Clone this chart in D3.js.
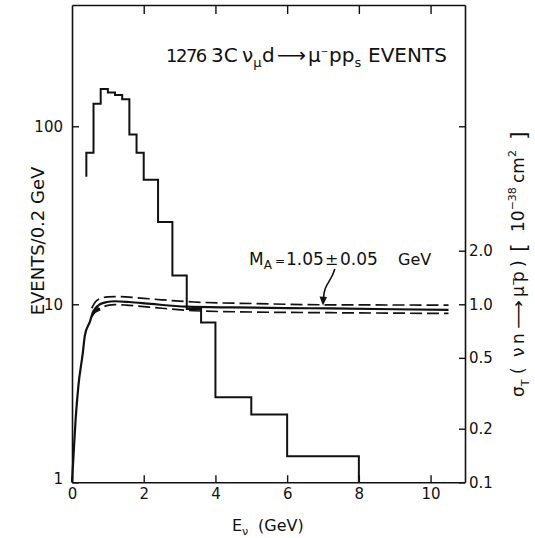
<!DOCTYPE html>
<html><head><meta charset="utf-8">
<script src="https://cdn.jsdelivr.net/npm/d3@7"></script>
<style>
html,body{margin:0;padding:0;background:#fff;}
svg{display:block;}
text{font-family:"DejaVu Sans",sans-serif;fill:#111;}
</style></head>
<body>
<script>
// ---------------- data ----------------
const histEdges  = [0.4,0.6,0.8,1.0,1.2,1.4,1.6,1.8,2.0,2.4,2.8,3.2,3.6,4.0,5.0,6.0,8.0];
const histCounts = [71,134,162,155,150,142,90,71,50,29,14.5,9.4,7.9,3.0,2.4,1.4];
const histStartCount = 52;   // lower end of first vertical edge
const histEndCount = 1;      // histogram closes down to axis

const solidE   = [0.0,0.036,0.1,0.176,0.3,0.36,0.5,0.59,0.78,0.97,1.2,1.6,2.2,3.2,4.5,6.0,7.2,9.0,10.5];
const solidSig = [0.1,0.134,0.224,0.345,0.53,0.67,0.80,0.91,1.0,1.03,1.04,1.03,1.005,0.97,0.96,0.952,0.948,0.938,0.93];

const upperE   = [0.55,0.65,0.78,1.0,1.2,1.5,2.0,2.5,3.4,5.0,7.2,10.5];
const upperSig = [0.95,1.03,1.075,1.10,1.105,1.10,1.08,1.06,1.03,1.01,0.993,0.99];

const lowerE   = [0.55,0.65,0.78,1.0,1.2,1.5,2.0,2.5,3.4,5.0,7.2,10.5];
const lowerSig = [0.85,0.91,0.95,0.985,0.995,0.99,0.97,0.95,0.92,0.905,0.897,0.888];

const xTicks = [0,2,4,6,8,10];
const xTopTicks = [2,4,6,8,10];
const yTicks = [1,10,100];
const yTickLabels = ["1","10","100"];
const yRTicks = [0.1,0.2,0.5,1.0,2.0,10];
const yRTickLabels = ["0.1","0.2","0.5","1.0","2.0",""];

// ---------------- layout ----------------
const W = 535, H = 538;
const L = 72, R = 465, T = 5, B = 482.3;

const svg = d3.select("body").append("svg").attr("width",W).attr("height",H);
svg.append("rect").attr("width",W).attr("height",H).attr("fill","#fff");

const x  = d3.scaleLinear().domain([0,10.96]).range([L,R]);
const y  = d3.scaleLog().domain([1,480]).range([B,T]);
const yR = d3.scaleLog().domain([0.1,48]).range([B,T]);

const axStyle = g => {
  g.selectAll("path.domain").attr("stroke","#111").attr("stroke-width",1.6);
  g.selectAll(".tick line").attr("stroke","#111").attr("stroke-width",1.4);
  g.selectAll("text").attr("font-family","DejaVu Sans").attr("fill","#111");
};

// bottom axis
svg.append("g").attr("transform",`translate(0,${B})`)
  .call(d3.axisBottom(x).tickValues(xTicks).tickFormat(d3.format("d")).tickSizeInner(-7).tickSizeOuter(0).tickPadding(6))
  .call(axStyle).call(g=>g.selectAll("text").attr("font-size",15));
// top axis
svg.append("g").attr("transform",`translate(0,${T})`)
  .call(d3.axisTop(x).tickValues(xTopTicks).tickFormat("").tickSizeInner(-9).tickSizeOuter(0))
  .call(axStyle);
// left axis
svg.append("g").attr("transform",`translate(${L},0)`)
  .call(d3.axisLeft(y).tickValues(yTicks).tickFormat((d,i)=>yTickLabels[i]).tickSizeInner(-7).tickSizeOuter(0).tickPadding(9))
  .call(axStyle).call(g=>g.selectAll("text").attr("font-size",15))
  .call(g=>g.selectAll(".tick").filter(d=>d===1).select("text").attr("dy","0.05em"));
// right axis
svg.append("g").attr("transform",`translate(${R},0)`)
  .call(d3.axisRight(yR).tickValues(yRTicks).tickFormat((d,i)=>yRTickLabels[i]).tickSizeInner(-6).tickSizeOuter(0).tickPadding(4))
  .call(axStyle).call(g=>g.selectAll("text").attr("font-size",15));

// ---------------- histogram ----------------
const histPts = [[histEdges[0], histStartCount]];
histCounts.forEach((c,i)=>{ histPts.push([histEdges[i],c]); histPts.push([histEdges[i+1],c]); });
histPts.push([histEdges[histEdges.length-1], histEndCount]);
svg.append("path")
  .attr("d", d3.line().x(d=>x(d[0])).y(d=>y(d[1]))(histPts))
  .attr("fill","none").attr("stroke","#111").attr("stroke-width",2);

// ---------------- curves ----------------
const cl = d3.line().x(d=>x(d[0])).y(d=>yR(d[1])).curve(d3.curveMonotoneX);
svg.append("path").attr("d", cl(solidE.map((e,i)=>[e,solidSig[i]])))
  .attr("fill","none").attr("stroke","#111").attr("stroke-width",2.2);
svg.append("path").attr("d", cl(upperE.map((e,i)=>[e,upperSig[i]])))
  .attr("fill","none").attr("stroke","#111").attr("stroke-width",1.7).attr("stroke-dasharray","12,5");
svg.append("path").attr("d", cl(lowerE.map((e,i)=>[e,lowerSig[i]])))
  .attr("fill","none").attr("stroke","#111").attr("stroke-width",1.7).attr("stroke-dasharray","12,5");

// small arrowhead at dashed-curve start
{
  const tx = x(0.58), ty = yR(0.88);
  svg.append("path").attr("d",`M${tx},${ty} l4,-9 l4,5 z`).attr("fill","#111");
}

// M_A annotation arrow
{
  const tipX = x(7.0), tipY = yR(0.985);
  const sx = x(7.33), sy = 269;
  svg.append("path")
    .attr("d",`M${sx},${sy} C${sx-4},${sy+14} ${tipX+1},${tipY-22} ${tipX+0.5},${tipY-7}`)
    .attr("fill","none").attr("stroke","#111").attr("stroke-width",1.6);
  svg.append("path").attr("d",`M${tipX},${tipY} l-3.5,-9 l7.5,0.5 z`).attr("fill","#111");
}

// ---------------- texts ----------------
// title
{
  const t = svg.append("text").attr("y",62).attr("font-size",20);
  t.append("tspan").attr("x",166).attr("font-size",18).attr("letter-spacing",-1.5).text("1276");
  t.append("tspan").attr("x",211).text("3C");
  t.append("tspan").attr("x",242).text("ν");
  t.append("tspan").attr("dy",5).attr("font-size",13).text("μ");
  t.append("tspan").attr("dy",-5).attr("x",262).text("d");
  t.append("tspan").attr("x",277).attr("textLength",29).attr("lengthAdjust","spacingAndGlyphs").text("⟶");
  t.append("tspan").attr("x",308).text("μ");
  t.append("tspan").attr("dy",-8).attr("font-size",9).text("−");
  t.append("tspan").attr("dy",8).attr("x",329).text("pp");
  t.append("tspan").attr("dy",5).attr("font-size",13).text("s");
  t.append("tspan").attr("dy",-5).attr("x",368).text("EVENTS");
}
// M_A label
{
  const t = svg.append("text").attr("y",265).attr("font-size",17);
  t.append("tspan").attr("x",249).text("M");
  t.append("tspan").attr("dy",4).attr("font-size",12).text("A");
  t.append("tspan").attr("dy",-4).attr("x",275).attr("font-size",12).text("=");
  t.append("tspan").attr("x",286).text("1.05");
  t.append("tspan").attr("x",325).attr("font-size",16).text("±");
  t.append("tspan").attr("x",340).text("0.05");
  t.append("tspan").attr("x",398).attr("font-size",16).text("GeV");
}
// x label
{
  const t = svg.append("text").attr("y",531).attr("font-size",16);
  t.append("tspan").attr("x",232).text("E");
  t.append("tspan").attr("dy",4).attr("font-size",11).text("ν");
  t.append("tspan").attr("dy",-4).attr("x",258).text("(GeV)");
}
// y label
svg.append("text").attr("transform","translate(44,241) rotate(-90)")
  .attr("text-anchor","middle").attr("font-size",18).text("EVENTS/0.2  GeV");
// right label
{
  const t = svg.append("text").attr("transform","translate(524,0) rotate(-90)").attr("font-size",17);
  t.append("tspan").attr("x",-397).attr("y",0).text("σ");
  t.append("tspan").attr("y",5).attr("font-size",11).text("T");
  t.append("tspan").attr("x",-374).attr("y",0).text("(");
  t.append("tspan").attr("x",-357).attr("y",0).text("ν");
  t.append("tspan").attr("x",-344).attr("y",0).text("n");
  t.append("tspan").attr("x",-329).attr("y",0).attr("textLength",29).attr("lengthAdjust","spacingAndGlyphs").text("⟶");
  t.append("tspan").attr("x",-297).attr("y",0).text("μ");
  t.append("tspan").attr("y",-7).attr("font-size",11).text("−");
  t.append("tspan").attr("x",-282).attr("y",0).text("p");
  t.append("tspan").attr("x",-267).attr("y",0).text(")");
  t.append("tspan").attr("x",-252).attr("y",2).attr("font-size",22).text("[");
  t.append("tspan").attr("x",-232).attr("y",0).text("10");
  t.append("tspan").attr("y",-8).attr("font-size",11).text("−38");
  t.append("tspan").attr("x",-183).attr("y",0).text("cm");
  t.append("tspan").attr("y",-8).attr("font-size",11).text("2");
  t.append("tspan").attr("x",-140).attr("y",2).attr("font-size",22).text("]");
}
</script>
</body></html>
